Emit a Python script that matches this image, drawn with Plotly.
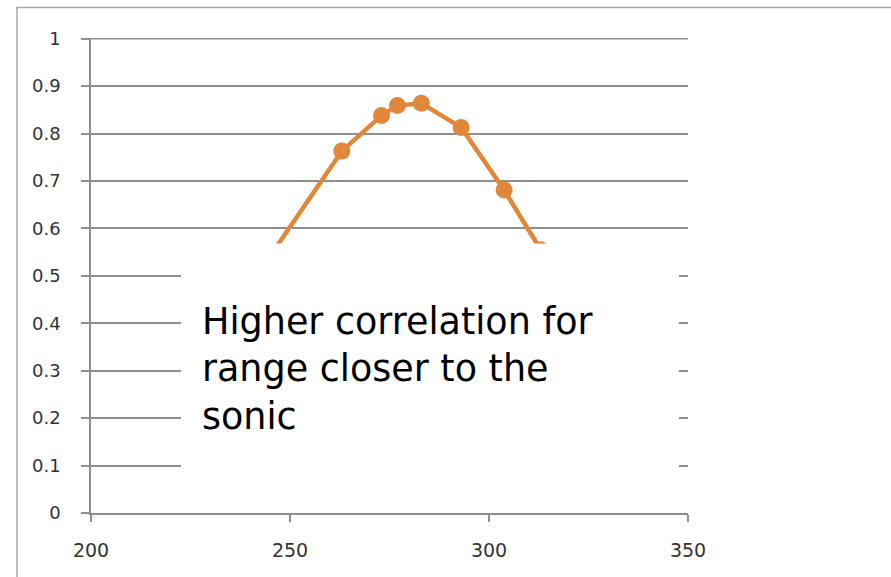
import plotly.graph_objects as go

# Data (x: range, y: correlation); first/last points hidden under the note box
x_vals = [243, 263, 273, 277, 283, 293, 303.8, 313]
y_vals = [0.517, 0.763, 0.838, 0.859, 0.864, 0.813, 0.681, 0.555]

x_ticks = [200, 250, 300, 350]
y_ticks = [0, 0.1, 0.2, 0.3, 0.4, 0.5, 0.6, 0.7, 0.8, 0.9, 1]
y_labels = ["0", "0.1", "0.2", "0.3", "0.4", "0.5", "0.6", "0.7", "0.8", "0.9", "1"]

note = "Higher correlation for<br>range closer to the<br>sonic"

orange = "#E2873A"
grid = "#8f8f8f"

fig = go.Figure()
fig.add_trace(go.Scatter(
    x=x_vals, y=y_vals, mode="lines+markers",
    line=dict(color=orange, width=4.5),
    marker=dict(color=orange, size=17),
    showlegend=False, hoverinfo="skip",
))

fig.update_layout(
    width=891, height=577,
    margin=dict(l=91, r=203, t=38, b=64),
    paper_bgcolor="white", plot_bgcolor="white",
    font=dict(family="DejaVu Sans", size=18, color="#333333"),
    xaxis=dict(
        range=[200, 350], tickvals=x_ticks, ticktext=[str(v) for v in x_ticks],
        showgrid=False, zeroline=False,
        showline=True, linecolor=grid, linewidth=1.5,
        ticks="outside", ticklen=7, tickcolor=grid, tickwidth=1.5,
        ticklabelstandoff=12, tickfont=dict(size=19),
    ),
    yaxis=dict(
        range=[0, 1.0015], tickvals=y_ticks, ticktext=y_labels,
        showgrid=True, gridcolor=grid, gridwidth=1.5, zeroline=False,
        showline=True, linecolor=grid, linewidth=1.5,
        ticks="outside", ticklen=8, tickcolor=grid, tickwidth=1.5,
        ticklabelstandoff=17,
    ),
    shapes=[
        # top gridline (at the edge of the plot area)
        dict(type="line", xref="paper", yref="y", x0=0, x1=1, y0=y_ticks[-1], y1=y_ticks[-1],
             line=dict(color=grid, width=1.5), layer="below"),
        # white note box covering part of the plot
        dict(type="rect", xref="x", yref="y", x0=222.6, x1=347.7, y0=0.05, y1=0.568,
             fillcolor="white", line=dict(width=0), layer="above"),
        # outer chart frame (top and left edges visible)
        dict(type="rect", xref="paper", yref="paper", x0=-0.124, x1=1.6, y0=-0.3, y1=1.064,
             fillcolor="rgba(0,0,0,0)", line=dict(color="#a8a8a8", width=1.5), layer="above"),
    ],
    annotations=[
        dict(text=note, xref="x", yref="y", x=227.3, y=0.453, xanchor="left", yanchor="top",
             align="left", showarrow=False,
             font=dict(family="DejaVu Sans", size=36.5, color="#000000")),
    ],
)

fig.write_html("out.html")
